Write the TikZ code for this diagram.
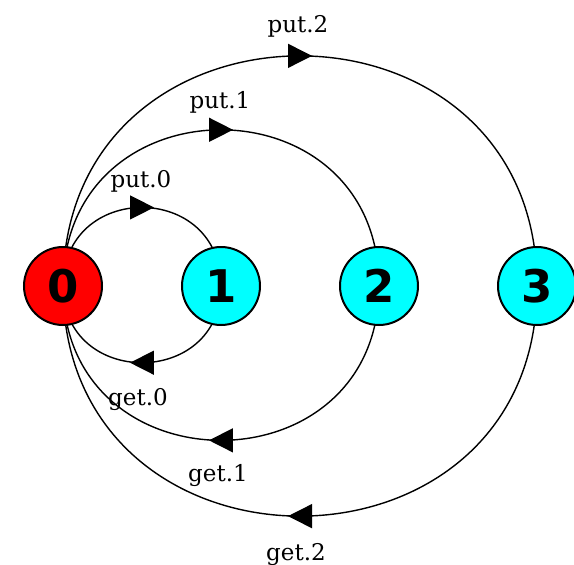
\documentclass[tikz,border=0pt]{standalone}
\usepackage{fontspec}
\setmainfont{DejaVu Serif}
\newfontfamily\statefont{DejaVu Sans}
\usetikzlibrary{positioning, arrows.meta, decorations.markings, backgrounds}
\definecolor{StateCyan}{HTML}{00FFFF}
\definecolor{StartRed}{HTML}{FF0000}

\begin{document}
\begin{tikzpicture}[
  x=1pt, y=-1pt,
  node distance=78pt,
  state/.style={circle, draw=black, line width=2pt, fill=StateCyan,
    minimum size=78pt, inner sep=0pt,
    font=\statefont\bfseries\fontsize{45}{45}\selectfont},
  start/.style={state, fill=StartRed},
  arc/.style={draw, line width=1.4pt, postaction={decorate},
    decoration={markings, mark=at position 0.5 with
      {\pgftransformxshift{12pt}\arrow{Triangle[length=24pt,width=24pt]}}}},
  act/.style={anchor=base, inner sep=0pt, font=\fontsize{23}{23}\selectfont}
]
  \useasboundingbox (0,0) rectangle (574,565);

  \node[start] (n0) at (63,286) {0};
  \node[state, right=of n0] (n1) {1};
  \node[state, right=of n1] (n2) {2};
  \node[state, right=of n2] (n3) {3};

  % arcs go behind the circles
  \begin{pgfonlayer}{background}
    \draw[arc] (n0.center) to[out=90,in=90,looseness=1.7] (n1.center);
    \draw[arc] (n0.center) to[out=90,in=90,looseness=1.69] (n2.center);
    \draw[arc] (n0.center) to[out=90,in=90,looseness=1.66] (n3.center);
    \draw[arc] (n1.center) to[out=-90,in=-90,looseness=1.66] (n0.center);
    \draw[arc] (n2.center) to[out=-90,in=-90,looseness=1.67] (n0.center);
    \draw[arc] (n3.center) to[out=-90,in=-90,looseness=1.66] (n0.center);
  \end{pgfonlayer}

  \node[act] (p0) at (141,187) {put.0};
  \node[act] (p1) at (220,108) {put.1};
  \node[act] (p2) at (298,32)  {put.2};
  \node[act] (g0) at (138,405) {get.0};
  \node[act] (g1) at (218,481) {get.1};
  \node[act] (g2) at (296,560) {get.2};
\end{tikzpicture}
\end{document}
